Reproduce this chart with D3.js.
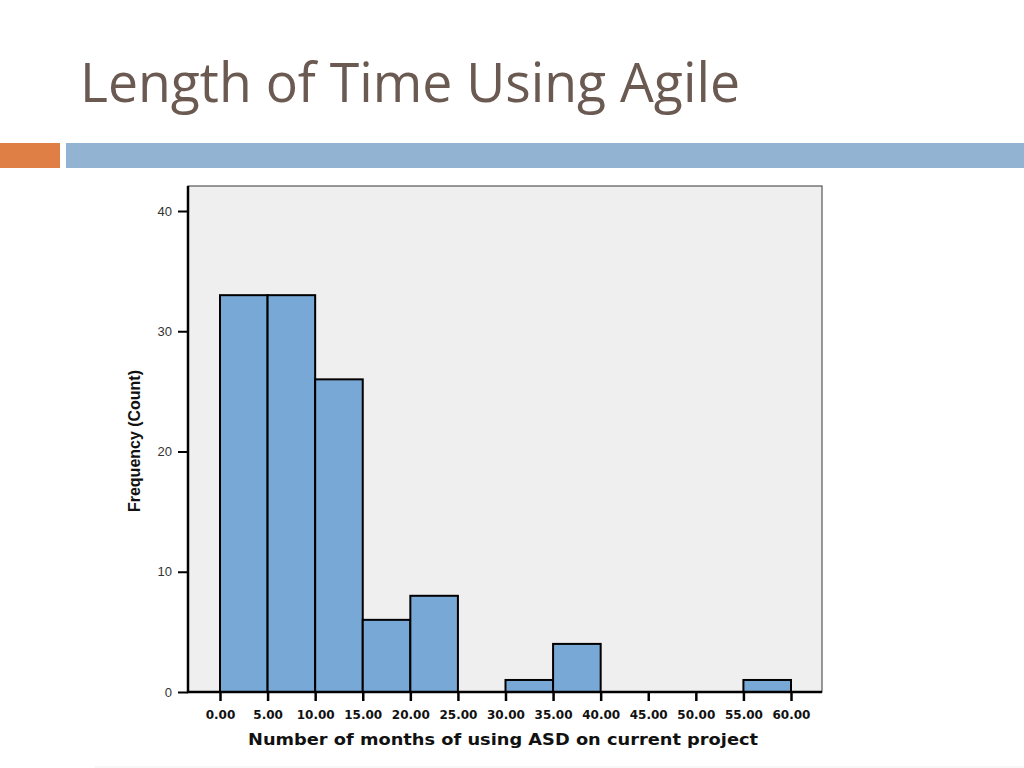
<!DOCTYPE html>
<html><head><meta charset="utf-8">
<script src="https://cdn.jsdelivr.net/npm/d3@7/dist/d3.min.js"></script>
<style>html,body{margin:0;padding:0;background:#fff;}svg{display:block;}</style>
</head><body>
<script>
const title = "Length of Time Using Agile";
const binStarts = [0, 5, 10, 15, 20, 25, 30, 35, 40, 45, 50, 55];
const binWidth = 5;
const counts = [33, 33, 26, 6, 8, 0, 1, 4, 0, 0, 0, 1];
const xTicks = [0, 5, 10, 15, 20, 25, 30, 35, 40, 45, 50, 55, 60];
const yTicks = [0, 10, 20, 30, 40];
const xTitle = "Number of months of using ASD on current project";
const yTitle = "Frequency (Count)";

const W = 1024, H = 768;
const svg = d3.select("body").append("svg").attr("width", W).attr("height", H);
svg.append("rect").attr("width", W).attr("height", H).attr("fill", "#fff");

// Title
svg.append("text").attr("x", 80).attr("y", 102)
  .attr("font-family", "'Open Sans', Lato, sans-serif").attr("font-size", 54)
  .attr("fill", "#6b5a52").attr("textLength", 660).attr("lengthAdjust", "spacingAndGlyphs")
  .text(title);

// Decorative bars
svg.append("rect").attr("x", 0).attr("y", 143).attr("width", 60).attr("height", 25).attr("fill", "#e07f45");
svg.append("rect").attr("x", 66).attr("y", 143).attr("width", W - 66).attr("height", 25).attr("fill", "#93b3d3");
svg.append("line").attr("x1", 95).attr("x2", W).attr("y1", 767).attr("y2", 767).attr("stroke", "#eeeeee").attr("stroke-width", 1);

// Plot frame
const L = 188, R = 822, T = 186, B = 692;
const x = d3.scaleLinear().domain([0, 60]).range([220, 791]);
const y = d3.scaleLinear().domain([0, 40]).range([B, 211]);

svg.append("rect").attr("x", L).attr("y", T).attr("width", R - L).attr("height", B - T)
  .attr("fill", "#efefef").attr("stroke", "#555").attr("stroke-width", 1.2);

// Bars
svg.append("g").selectAll("rect").data(binStarts.map((s, i) => ({s, c: counts[i]})).filter(d => d.c > 0))
  .join("rect")
  .attr("x", d => x(d.s)).attr("width", d => x(d.s + binWidth) - x(d.s))
  .attr("y", d => y(d.c)).attr("height", d => y(0) - y(d.c))
  .attr("fill", "#78a8d6").attr("stroke", "#000").attr("stroke-width", 2);

// Axes lines
svg.append("line").attr("x1", L).attr("x2", L).attr("y1", T).attr("y2", B + 1).attr("stroke", "#000").attr("stroke-width", 2.5);
svg.append("line").attr("x1", L - 1).attr("x2", R).attr("y1", B).attr("y2", B).attr("stroke", "#000").attr("stroke-width", 2.5);

// Y axis
const yAx = svg.append("g").attr("transform", `translate(${L},0)`)
  .call(d3.axisLeft(y).tickValues(yTicks).tickSize(10).tickPadding(6).tickFormat(d3.format("d")));
yAx.select(".domain").remove();
yAx.selectAll(".tick line").attr("stroke", "#000").attr("stroke-width", 2);
yAx.selectAll(".tick text").attr("font-family", "'Liberation Sans', Arial, sans-serif").attr("font-size", 13).attr("fill", "#333");

// X axis
const xAx = svg.append("g").attr("transform", `translate(0,${B})`)
  .call(d3.axisBottom(x).tickValues(xTicks).tickSize(9).tickPadding(9).tickFormat(d3.format(".2f")));
xAx.select(".domain").remove();
xAx.selectAll(".tick line").attr("stroke", "#000").attr("stroke-width", 2.5);
xAx.selectAll(".tick text").attr("font-family", "'DejaVu Sans', Verdana, sans-serif").attr("font-size", 12)
  .attr("font-weight", "bold").attr("fill", "#111");

// Axis titles
svg.append("text").attr("x", 503).attr("y", 745).attr("text-anchor", "middle")
  .attr("font-family", "'DejaVu Sans', Verdana, sans-serif").attr("font-size", 15).attr("font-weight", "bold")
  .attr("fill", "#111").attr("textLength", 510).attr("lengthAdjust", "spacingAndGlyphs").text(xTitle);

svg.append("text").attr("transform", "translate(140,441) rotate(-90)").attr("text-anchor", "middle")
  .attr("font-family", "'Liberation Sans', Arial, sans-serif").attr("font-size", 16).attr("font-weight", "bold")
  .attr("fill", "#111").attr("textLength", 142).attr("lengthAdjust", "spacingAndGlyphs").text(yTitle);
</script>
</body></html>
